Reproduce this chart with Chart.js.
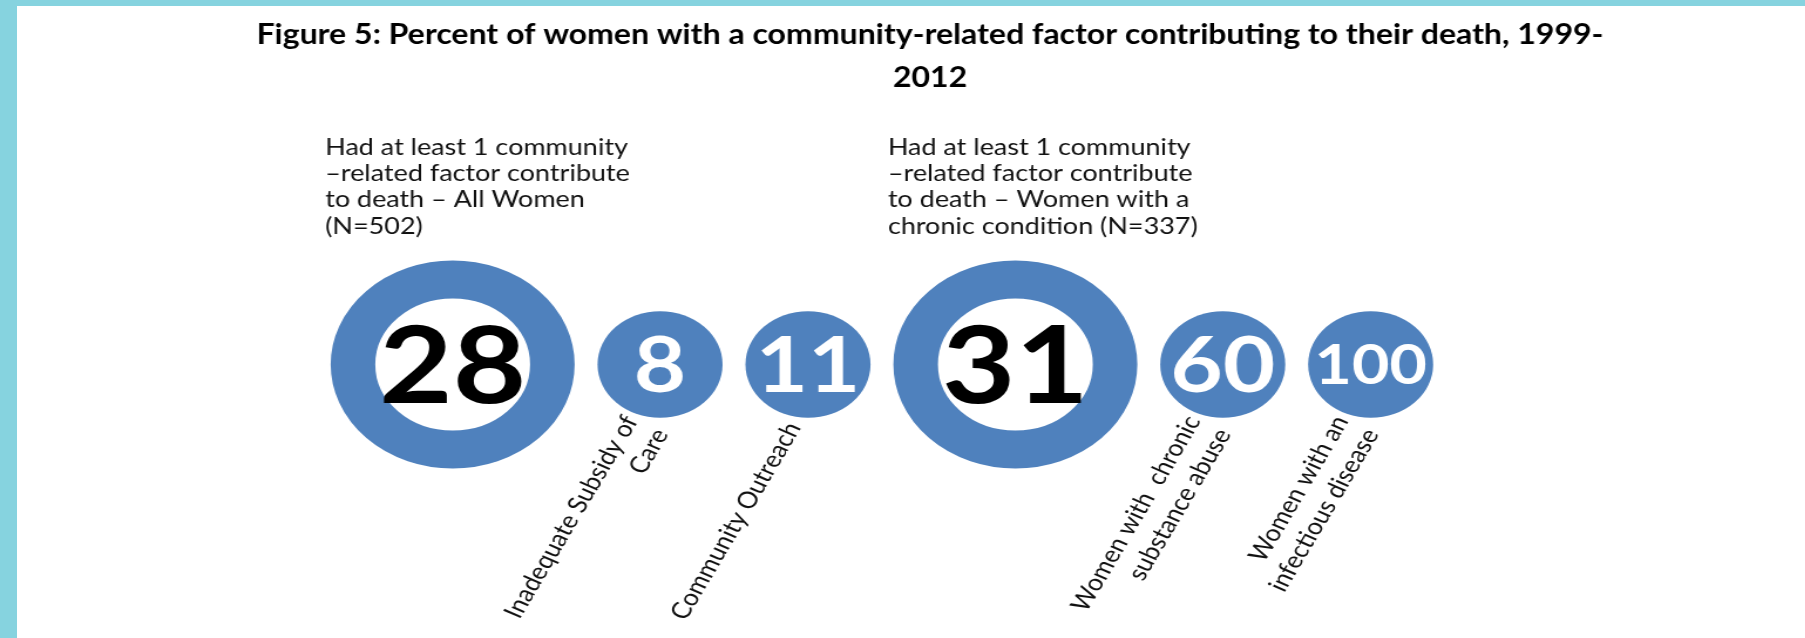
<!DOCTYPE html>
<html>
<head>
<meta charset="utf-8">
<script src="https://cdn.jsdelivr.net/npm/chart.js@4"></script>
<style>
  html, body { margin: 0; padding: 0; background: #fff; }
  body { width: 1805px; height: 638px; position: relative; overflow: hidden; }
  #frame {
    position: absolute; left: 0; top: 0; width: 1805px; height: 638px;
    box-sizing: border-box;
    border-left: 17px solid #86d3df;
    border-top: 6px solid #86d3df;
  }
  /* the figure in the reference is a picture stretched sideways, so the canvas is too */
  #chart {
    position: absolute; left: 0; top: 0; width: 1539px; height: 638px;
    transform: scaleX(1.173); transform-origin: 0 0;
  }
</style>
</head>
<body>
<div id="frame"></div>
<canvas id="chart" width="1539" height="638"></canvas>
<script>
const titleLines = ['Figure 5: Percent of women with a community-related factor contributing to their death, 1999-', '2012'];

const categories = ['All women', 'Inadequate Subsidy of Care', 'Community Outreach',
  'Women with a chronic condition', 'Women with chronic substance abuse', 'Women with an infectious disease'];
const values = [28, 8, 11, 31, 60, 100];
const isTotal = [true, false, false, true, false, false];

const tickLabels = [
  [],
  ['Inadequate Subsidy of', 'Care'],
  ['Community Outreach'],
  [],
  ['Women with  chronic', 'substance abuse'],
  ['Women with an', 'infectious disease']
];

const groupNotes = [
  ['Had at least 1 community', '\u2013related factor contribute', 'to death \u2013 All Women', '(N=502)'],
  ['Had at least 1 community', '\u2013related factor contribute', 'to death \u2013 Women with a', 'chronic condition (N=337)']
];

// look
const STRETCH = 1.173;
const W = 1539, H = 638;
const BLUE = '#4f81bd';
const RING_R = 85, RING_W = 38, DOT_R = 53.3, GAP = 19.5;
const FIRST_X = 385.9, CENTER_Y = 364.5;

function outerR(total) {
  return total ? RING_R + RING_W / 2 : DOT_R;
}

// circles sit side by side with the same gap between edges
function packPositions() {
  let xs = [];
  let x = 0;
  for (let i = 0; i < isTotal.length; i++) {
    if (i > 0) x += outerR(isTotal[i - 1]) + GAP + outerR(isTotal[i]);
    xs.push(x);
  }
  return xs;
}

const xs = packPositions();

const textPlugin = {
  id: 'infographicText',
  afterDatasetsDraw(chart) {
    const ctx = chart.ctx;
    const pts = chart.getDatasetMeta(0).data;

    // numbers in the circles
    pts.forEach((pt, i) => {
      const txt = String(values[i]);
      let size = 108;
      if (!isTotal[i]) {
        ctx.font = 'bold 100px Lato';
        size = Math.min(77, 96 * 100 / ctx.measureText(txt).width);
      }
      ctx.save();
      ctx.font = `bold ${size}px Lato`;
      ctx.fillStyle = isTotal[i] ? '#000' : '#fff';
      ctx.textAlign = 'center';
      ctx.textBaseline = 'alphabetic';
      ctx.fillText(txt, pt.x, pt.y + size * 0.358);
      ctx.restore();
    });

    // notes above the two rings
    let g = 0;
    pts.forEach((pt, i) => {
      if (!isTotal[i]) return;
      const lines = groupNotes[g++];
      ctx.save();
      ctx.font = '23px Lato';
      ctx.fillStyle = '#111';
      ctx.textAlign = 'left';
      ctx.textBaseline = 'alphabetic';
      lines.forEach((l, k) => ctx.fillText(l, pt.x - 108.7, pt.y - 209.5 + k * 26.2));
      ctx.restore();
    });

    // slanted labels under the small circles
    pts.forEach((pt, i) => {
      const lines = tickLabels[i];
      if (!lines.length) return;
      const lh = 29;
      ctx.save();
      ctx.font = '23px Lato';
      ctx.fillStyle = '#111';
      ctx.textAlign = 'right';
      ctx.textBaseline = 'middle';
      ctx.translate(pt.x - 12, pt.y + 59.5);
      ctx.rotate(-63 * Math.PI / 180);
      lines.forEach((l, k) => ctx.fillText(l, 0, (k - (lines.length - 1) / 2) * lh));
      ctx.restore();
    });

    // title is page text, not part of the stretched picture
    ctx.save();
    ctx.scale(1 / STRETCH, 1);
    ctx.font = 'bold 29px Lato';
    ctx.fillStyle = '#000';
    ctx.textAlign = 'center';
    ctx.textBaseline = 'alphabetic';
    const sx = 1347 / ctx.measureText(titleLines[0]).width;
    ctx.translate(930, 0);
    ctx.scale(sx, 1);
    ctx.fillText(titleLines[0], 0, 44.3);
    ctx.fillText(titleLines[1], 0, 87.3);
    ctx.restore();
  }
};

Chart.defaults.font.family = 'Lato';

const data = {
  labels: categories,
  datasets: [{
    label: 'Percent of women',
    data: values.map((v, i) => ({x: xs[i], y: 0})),
    clip: false,
    pointStyle: 'circle',
    pointRadius: c => isTotal[c.dataIndex] ? RING_R : DOT_R,
    pointBorderWidth: c => isTotal[c.dataIndex] ? RING_W : 0,
    pointBackgroundColor: c => isTotal[c.dataIndex] ? '#fff' : BLUE,
    pointBorderColor: BLUE
  }]
};

const config = {
  type: 'scatter',
  data: data,
  options: {
    responsive: false,
    animation: false,
    events: [],
    layout: { padding: 0, autoPadding: false },
    scales: {
      x: { type: 'linear', display: false, min: -FIRST_X, max: W - FIRST_X },
      y: { type: 'linear', display: false, min: CENTER_Y - H, max: CENTER_Y }
    },
    plugins: {
      legend: { display: false },
      tooltip: { enabled: false }
    }
  },
  plugins: [textPlugin]
};

let ctx = document.getElementById('chart').getContext('2d');
new Chart(ctx, config);
</script>
</body>
</html>
